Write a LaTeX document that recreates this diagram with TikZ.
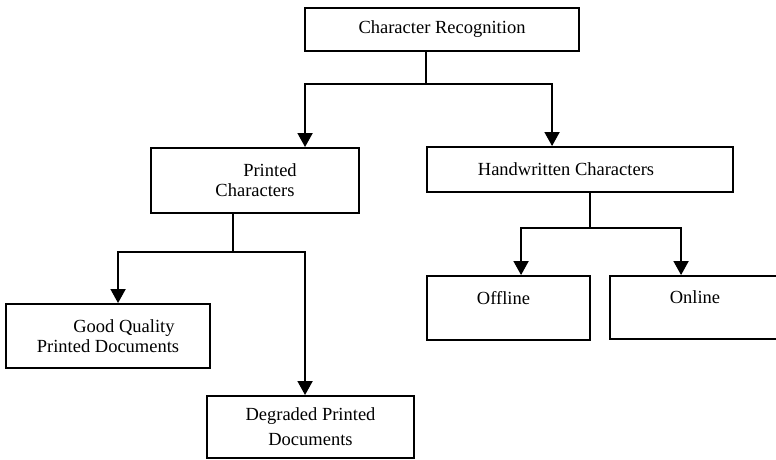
\documentclass[tikz,border=0pt]{standalone}
\usepackage{fontspec}
\setmainfont{Liberation Serif}
\usetikzlibrary{arrows.meta}
\begin{document}
\begin{tikzpicture}[x=1pt,y=-1pt,
  every node/.style={font=\fontsize{18.5}{20}\selectfont},
  box/.style={draw=black, line width=1.9pt, rectangle, inner sep=0pt, align=center},
  conn/.style={line width=1.8pt},
  arr/.style={conn, -{Triangle[width=15pt,length=14pt]}}]
\useasboundingbox (0,0) rectangle (776,460);
\node[box, minimum width=274pt, minimum height=43pt] (cr) at (442,29.5) {Character Recognition};
\node[box, minimum width=208pt, minimum height=65pt] (pc) at (255,180.5) {\hspace{30pt}Printed\\Characters};
\node[box, minimum width=306pt, minimum height=45pt] (hw) at (580,169.5) {Handwritten Characters\hspace{28pt}};
\node[box, minimum width=204pt, minimum height=64pt] (gq) at (108,336) {\hspace{32pt}Good Quality\\Printed Documents};
\node[box, minimum width=207pt, minimum height=62pt] (dp) at (310.5,427) {Degraded Printed\\[5pt]Documents};
\node[box, minimum width=163pt, minimum height=64pt] (off) at (508.5,308) {\hspace{-10pt}Offline\\\mbox{}};
\node[box, minimum width=170pt, minimum height=63pt] (on) at (695,307.5) {Online\hspace{18pt}\\\mbox{}};
% connectors
\coordinate (j1) at ([xshift=122pt,yshift=-32pt]cr.south west);
\draw[conn] ([xshift=122pt]cr.south west) -- (j1);
\draw[arr] (j1) -| ([xshift=155pt]pc.north west);
\draw[arr] (j1) -| ([xshift=126pt]hw.north west);
\coordinate (j2) at ([xshift=83pt,yshift=-38pt]pc.south west);
\draw[conn] ([xshift=83pt]pc.south west) -- (j2);
\draw[arr] (j2) -| ([xshift=113pt]gq.north west);
\draw[arr] (j2) -| ([xshift=99pt]dp.north west);
\coordinate (j3) at ([xshift=164pt,yshift=-35pt]hw.south west);
\draw[conn] ([xshift=164pt]hw.south west) -- (j3);
\draw[arr] (j3) -| ([xshift=95pt]off.north west);
\draw[arr] (j3) -| ([xshift=72pt]on.north west);
\end{tikzpicture}
\end{document}
